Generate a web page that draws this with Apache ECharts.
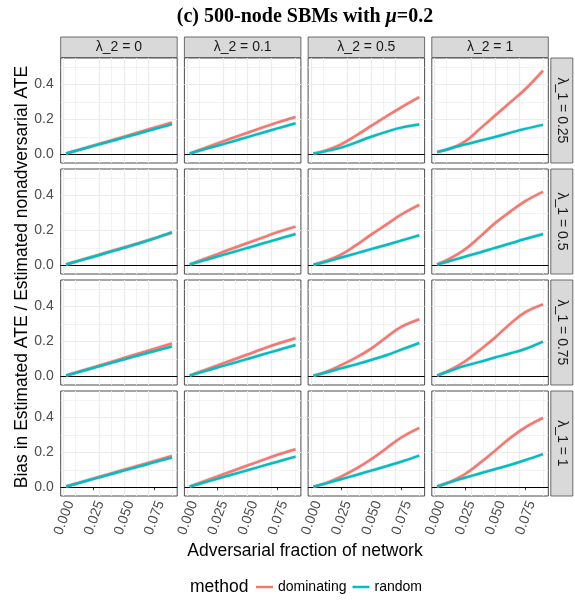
<!DOCTYPE html>
<html><head><meta charset="utf-8">
<script src="https://cdn.jsdelivr.net/npm/echarts@6/dist/echarts.min.js"></script>
<style>html,body{margin:0;padding:0;background:#fff}#chart{width:575px;height:600px}</style>
</head><body><div id="chart"></div>
<script>
// ---------- data ----------
const xValues = [0.002, 0.0125, 0.025, 0.0375, 0.05, 0.0625, 0.075, 0.09];
const colLabels = ['λ_2 = 0', 'λ_2 = 0.1', 'λ_2 = 0.5', 'λ_2 = 1'];
const rowLabels = ['λ_1 = 0.25', 'λ_1 = 0.5', 'λ_1 = 0.75', 'λ_1 = 1'];
const xTickValues = [0, 0.025, 0.05, 0.075];
const xTickLabels = ['0.000', '0.025', '0.050', '0.075'];
const yTickValues = [0, 0.2, 0.4];
const yTickLabels = ['0.0', '0.2', '0.4'];
const xMajorGrid = [0, 0.025, 0.05, 0.075];
const xMinorGrid = [0.0125, 0.0375, 0.0625, 0.0875];
const yMajorGrid = [0.2, 0.4];
const yMinorGrid = [0.1, 0.3, 0.5];

// dominating method, one array per panel (columns λ_2 = 0, 0.1, 0.5, 1)
const dominatingRow1 = [
  [0.004, 0.025, 0.050, 0.075, 0.100, 0.126, 0.151, 0.181],
  [0.004, 0.031, 0.062, 0.093, 0.123, 0.153, 0.182, 0.213],
  [0.003, 0.022, 0.057, 0.107, 0.162, 0.216, 0.268, 0.326],
  [0.015, 0.030, 0.072, 0.145, 0.220, 0.295, 0.370, 0.478]
];
const randomRow1 = [
  [0.004, 0.024, 0.048, 0.071, 0.095, 0.119, 0.143, 0.171],
  [0.004, 0.025, 0.049, 0.073, 0.098, 0.123, 0.148, 0.177],
  [0.003, 0.018, 0.038, 0.068, 0.100, 0.128, 0.152, 0.170],
  [0.011, 0.033, 0.055, 0.077, 0.099, 0.122, 0.145, 0.168]
];
const dominatingRow2 = [
  [0.004, 0.026, 0.051, 0.077, 0.102, 0.127, 0.153, 0.185],
  [0.004, 0.032, 0.064, 0.096, 0.127, 0.158, 0.189, 0.221],
  [0.003, 0.025, 0.061, 0.115, 0.175, 0.232, 0.290, 0.345],
  [0.005, 0.038, 0.090, 0.162, 0.240, 0.305, 0.365, 0.420]
];
const randomRow2 = [
  [0.004, 0.025, 0.049, 0.074, 0.099, 0.124, 0.152, 0.189],
  [0.004, 0.025, 0.050, 0.074, 0.099, 0.124, 0.149, 0.179],
  [0.003, 0.020, 0.044, 0.068, 0.092, 0.116, 0.141, 0.171],
  [0.004, 0.024, 0.049, 0.073, 0.099, 0.124, 0.150, 0.179]
];
const dominatingRow3 = [
  [0.004, 0.026, 0.052, 0.078, 0.104, 0.130, 0.156, 0.187],
  [0.004, 0.031, 0.062, 0.093, 0.124, 0.156, 0.186, 0.217],
  [0.003, 0.025, 0.063, 0.107, 0.158, 0.222, 0.282, 0.326],
  [0.004, 0.035, 0.084, 0.150, 0.220, 0.298, 0.365, 0.411]
];
const randomRow3 = [
  [0.004, 0.024, 0.048, 0.072, 0.096, 0.120, 0.143, 0.170],
  [0.004, 0.025, 0.050, 0.074, 0.099, 0.124, 0.149, 0.179],
  [0.003, 0.021, 0.045, 0.068, 0.093, 0.120, 0.152, 0.190],
  [0.004, 0.030, 0.059, 0.082, 0.107, 0.130, 0.156, 0.198]
];
const dominatingRow4 = [
  [0.004, 0.025, 0.050, 0.075, 0.100, 0.124, 0.149, 0.179],
  [0.004, 0.031, 0.062, 0.093, 0.124, 0.155, 0.186, 0.217],
  [0.003, 0.024, 0.061, 0.106, 0.160, 0.222, 0.284, 0.339],
  [0.004, 0.030, 0.074, 0.138, 0.208, 0.280, 0.341, 0.396]
];
const randomRow4 = [
  [0.004, 0.024, 0.048, 0.071, 0.095, 0.118, 0.142, 0.170],
  [0.004, 0.024, 0.049, 0.073, 0.097, 0.122, 0.146, 0.175],
  [0.003, 0.022, 0.046, 0.070, 0.095, 0.120, 0.146, 0.181],
  [0.004, 0.028, 0.054, 0.079, 0.103, 0.127, 0.154, 0.189]
];
const dominatingRows = [dominatingRow1, dominatingRow2, dominatingRow3, dominatingRow4];
const randomRows = [randomRow1, randomRow2, randomRow3, randomRow4];

// ---------- layout ----------
const X_MIN = -0.0024, X_MAX = 0.0944, Y_MIN = -0.05, Y_MAX = 0.55;
const PANEL_LEFT0 = 60.7, COL_STEP = 123.7, PANEL_W = 116.5;
const PANEL_TOP0 = 58, ROW_STEP = 111, PANEL_H = 105;
const RED = '#F8766D', TEAL = '#00BFC4';
const FONT = '"Liberation Sans", Arial, Helvetica, sans-serif';

const grids = [], xAxes = [], yAxes = [], series = [], graphics = [];
const pairs = v => xValues.map((x, i) => [x, v[i]]);
const labelFor = (vals, labels) => v => {
  for (let i = 0; i < vals.length; i++) if (Math.abs(vals[i] - v) < 1e-9) return labels[i];
  return '';
};

for (let r = 0; r < 4; r++) {
  for (let c = 0; c < 4; c++) {
    const idx = r * 4 + c;
    const left = PANEL_LEFT0 + c * COL_STEP, top = PANEL_TOP0 + r * ROW_STEP;
    grids.push({ left, top, width: PANEL_W, height: PANEL_H, show: true,
      borderColor: '#4d4d4d', borderWidth: 1, backgroundColor: '#fff', containLabel: false });
    xAxes.push({ gridIndex: idx, type: 'value', min: X_MIN, max: X_MAX,
      axisLine: { show: false },
      axisTick: { show: r === 3, customValues: xTickValues, length: 3, lineStyle: { color: '#333', width: 1 } },
      axisLabel: { show: r === 3, customValues: xTickValues, rotate: 70, margin: 3, verticalAlign: 'top',
        formatter: labelFor(xTickValues, xTickLabels), color: '#4D4D4D', fontSize: 14, fontFamily: FONT },
      splitLine: { show: false } });
    yAxes.push({ gridIndex: idx, type: 'value', min: Y_MIN, max: Y_MAX,
      axisLine: { show: false },
      axisTick: { show: c === 0, customValues: yTickValues, length: 3, lineStyle: { color: '#333', width: 1 } },
      axisLabel: { show: c === 0, customValues: yTickValues, margin: 7,
        formatter: labelFor(yTickValues, yTickLabels), color: '#4D4D4D', fontSize: 14, fontFamily: FONT },
      splitLine: { show: false } });
    // panel grid lines (through the axes' scales)
    series.push({ type: 'line', xAxisIndex: idx, yAxisIndex: idx, data: [], silent: true,
      markLine: { silent: true, symbol: 'none', z: 1, animation: false, label: { show: false },
        data: [
          ...xMinorGrid.map(v => ({ xAxis: v, lineStyle: { color: '#F0F0F0', width: 0.8, type: 'solid' } })),
          ...yMinorGrid.map(v => ({ yAxis: v, lineStyle: { color: '#F0F0F0', width: 0.8, type: 'solid' } })),
          ...xMajorGrid.map(v => ({ xAxis: v, lineStyle: { color: '#EBEBEB', width: 1.2, type: 'solid' } })),
          ...yMajorGrid.map(v => ({ yAxis: v, lineStyle: { color: '#EBEBEB', width: 1.2, type: 'solid' } }))
        ] } });
    series.push({ type: 'line', xAxisIndex: idx, yAxisIndex: idx, data: [], silent: true,
      markLine: { silent: true, symbol: 'none', z: 1.5, animation: false, label: { show: false },
        data: [{ yAxis: 0, lineStyle: { color: '#000', width: 1.1, type: 'solid' } }] } });
    const dom = pairs(dominatingRows[r][c]), ran = pairs(randomRows[r][c]);
    [[dom, RED, 'dominating'], [ran, TEAL, 'random']].forEach(([d, col, name]) => {
      series.push({ type: 'line', xAxisIndex: idx, yAxisIndex: idx, data: d, smooth: 0.4,
        showSymbol: false, silent: true, z: 2,
        lineStyle: { color: 'rgba(150,150,150,0.22)', width: 3.8 } });
      series.push({ name, type: 'line', xAxisIndex: idx, yAxisIndex: idx, data: d, smooth: 0.4,
        showSymbol: false, silent: true, z: 3, color: col,
        lineStyle: { color: col, width: 2.5 } });
    });
  }
}

// strips
for (let c = 0; c < 4; c++) {
  const left = PANEL_LEFT0 + c * COL_STEP;
  graphics.push({ type: 'rect', shape: { x: left, y: 37, width: PANEL_W, height: 20.5 },
    style: { fill: '#D9D9D9', stroke: '#4d4d4d', lineWidth: 0.8 } });
  graphics.push({ type: 'text', x: left + PANEL_W / 2, y: 47.5,
    style: { text: colLabels[c], fill: '#1A1A1A', font: '14px ' + FONT, textAlign: 'center', textVerticalAlign: 'middle' } });
}
for (let r = 0; r < 4; r++) {
  const top = PANEL_TOP0 + r * ROW_STEP;
  graphics.push({ type: 'rect', shape: { x: 550.8, y: top, width: 22, height: PANEL_H },
    style: { fill: '#D9D9D9', stroke: '#4d4d4d', lineWidth: 0.8 } });
  graphics.push({ type: 'text', x: 562, y: top + PANEL_H / 2, rotation: -Math.PI / 2,
    style: { text: rowLabels[r], fill: '#1A1A1A', font: '14px ' + FONT, textAlign: 'center', textVerticalAlign: 'middle' } });
}
// titles
graphics.push({ type: 'text', x: 305, y: 17,
  style: { text: '{a|(c) 500-node SBMs with }{b|μ}{a|=0.2}', textAlign: 'center', textVerticalAlign: 'middle',
    rich: { a: { font: 'bold 20px "Liberation Serif", "Times New Roman", serif', fill: '#000' },
            b: { font: 'italic bold 20px "Liberation Serif", "Times New Roman", serif', fill: '#000' } } } });
graphics.push({ type: 'text', x: 22, y: 277, rotation: Math.PI / 2,
  style: { text: 'Bias in Estimated ATE / Estimated nonadversarial ATE', fill: '#000',
    font: '17.5px ' + FONT, textAlign: 'center', textVerticalAlign: 'middle' } });
graphics.push({ type: 'text', x: 305, y: 551,
  style: { text: 'Adversarial fraction of network', fill: '#000',
    font: '17.5px ' + FONT, textAlign: 'center', textVerticalAlign: 'middle' } });
graphics.push({ type: 'text', x: 190, y: 587,
  style: { text: 'method', fill: '#000', font: '17.5px ' + FONT, textAlign: 'left', textVerticalAlign: 'middle' } });

const chart = echarts.init(document.getElementById('chart'), null, { renderer: 'canvas' });
chart.setOption({
  animation: false,
  backgroundColor: '#fff',
  grid: grids, xAxis: xAxes, yAxis: yAxes, series,
  legend: { data: [{ name: 'dominating', icon: 'rect' }, { name: 'random', icon: 'rect' }],
    left: 256, top: 580, padding: 0, itemWidth: 17, itemHeight: 2.5, itemGap: 6, selectedMode: false,
    textStyle: { color: '#000', fontSize: 14, fontFamily: FONT } },
  graphic: graphics
});
</script></body></html>
